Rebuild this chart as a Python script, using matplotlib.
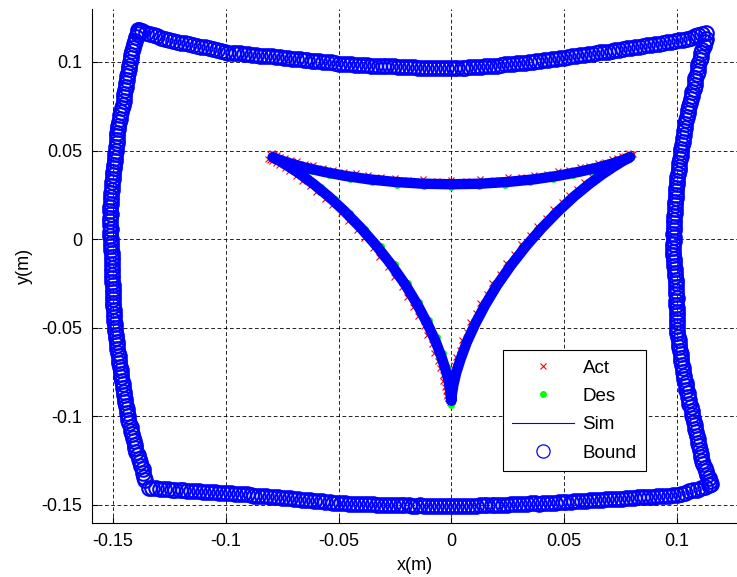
import matplotlib
matplotlib.use('Agg')
import matplotlib.pyplot as plt
from matplotlib.lines import Line2D

# workspace boundary, sampled edge by edge (top, right, bottom, left)
top_x = [-0.1385, -0.1355, -0.1320, -0.1285, -0.1250, -0.1215, -0.1180, -0.1145, -0.1110, -0.1075,
         -0.1040, -0.1005, -0.0970, -0.0935, -0.0900, -0.0865, -0.0830, -0.0795, -0.0760, -0.0725,
         -0.0690, -0.0655, -0.0620, -0.0585, -0.0550, -0.0515, -0.0480, -0.0445, -0.0410, -0.0375,
         -0.0340, -0.0305, -0.0270, -0.0235, -0.0200, -0.0165, -0.0130, -0.0095, -0.0060, -0.0025,
         0.0010, 0.0045, 0.0080, 0.0115, 0.0150, 0.0185, 0.0220, 0.0255, 0.0290, 0.0325,
         0.0360, 0.0395, 0.0430, 0.0465, 0.0500, 0.0535, 0.0570, 0.0605, 0.0640, 0.0675,
         0.0710, 0.0745, 0.0780, 0.0815, 0.0850, 0.0885, 0.0920, 0.0955, 0.0990, 0.1025,
         0.1060, 0.1095, 0.1130]
top_y = [0.1178, 0.1166, 0.1150, 0.1135, 0.1124, 0.1115, 0.1105, 0.1096, 0.1087, 0.1077,
         0.1068, 0.1057, 0.1052, 0.1048, 0.1043, 0.1038, 0.1035, 0.1031, 0.1026, 0.1021,
         0.1017, 0.1013, 0.1008, 0.1003, 0.0999, 0.0995, 0.0990, 0.0988, 0.0985, 0.0982,
         0.0979, 0.0978, 0.0976, 0.0974, 0.0972, 0.0970, 0.0968, 0.0967, 0.0966, 0.0965,
         0.0966, 0.0968, 0.0970, 0.0972, 0.0975, 0.0979, 0.0983, 0.0987, 0.0992, 0.0997,
         0.1002, 0.1007, 0.1012, 0.1018, 0.1025, 0.1031, 0.1037, 0.1043, 0.1050, 0.1057,
         0.1063, 0.1070, 0.1077, 0.1084, 0.1090, 0.1097, 0.1104, 0.1111, 0.1118, 0.1126,
         0.1138, 0.1150, 0.1165]
top2_x = [-0.1370, -0.1338, -0.1303, -0.1268, -0.1233, -0.1198, -0.1163, -0.1128, -0.1093, -0.1058,
          -0.1023, -0.0988, -0.0953, -0.0918, -0.0883, -0.0848, -0.0813, -0.0778, -0.0743, -0.0708,
          -0.0673, -0.0638, -0.0603, -0.0568, -0.0533, -0.0498, -0.0463, -0.0428, -0.0393, -0.0358,
          -0.0323, -0.0288, -0.0253, -0.0218, -0.0183, -0.0148, -0.0113, -0.0078, -0.0043, -0.0008,
          0.0027, 0.0062, 0.0097, 0.0132, 0.0167, 0.0202, 0.0237, 0.0272, 0.0307, 0.0342,
          0.0377, 0.0412, 0.0447, 0.0482, 0.0517, 0.0552, 0.0587, 0.0622, 0.0657, 0.0692,
          0.0727, 0.0762, 0.0797, 0.0832, 0.0867, 0.0902, 0.0937, 0.0972, 0.1007, 0.1043,
          0.1078, 0.1112]
top2_y = [0.1174, 0.1156, 0.1144, 0.1127, 0.1121, 0.1108, 0.1102, 0.1090, 0.1083, 0.1071,
          0.1064, 0.1053, 0.1051, 0.1044, 0.1042, 0.1035, 0.1034, 0.1027, 0.1025, 0.1018,
          0.1016, 0.1009, 0.1007, 0.0999, 0.0998, 0.0991, 0.0990, 0.0985, 0.0984, 0.0979,
          0.0980, 0.0976, 0.0976, 0.0972, 0.0972, 0.0968, 0.0968, 0.0965, 0.0966, 0.0964,
          0.0968, 0.0968, 0.0972, 0.0973, 0.0978, 0.0980, 0.0986, 0.0989, 0.0995, 0.0999,
          0.1005, 0.1009, 0.1016, 0.1021, 0.1029, 0.1033, 0.1041, 0.1046, 0.1054, 0.1059,
          0.1067, 0.1073, 0.1081, 0.1086, 0.1094, 0.1100, 0.1108, 0.1114, 0.1123, 0.1131,
          0.1145, 0.1156]

right_x = [0.1128, 0.1120, 0.1106, 0.1101, 0.1093, 0.1087, 0.1080, 0.1074, 0.1066, 0.1059,
           0.1051, 0.1043, 0.1036, 0.1032, 0.1028, 0.1023, 0.1018, 0.1014, 0.1009, 0.1005,
           0.1000, 0.0996, 0.0994, 0.0992, 0.0990, 0.0988, 0.0987, 0.0986, 0.0985, 0.0984,
           0.0982, 0.0985, 0.0988, 0.0992, 0.0995, 0.0996, 0.0997, 0.0997, 0.0998, 0.0999,
           0.1000, 0.1001, 0.1005, 0.1010, 0.1014, 0.1018, 0.1022, 0.1027, 0.1033, 0.1040,
           0.1047, 0.1053, 0.1060, 0.1067, 0.1074, 0.1081, 0.1087, 0.1094, 0.1101, 0.1108,
           0.1116, 0.1127, 0.1140, 0.1150]
right_y = [0.1130, 0.1090, 0.1050, 0.1010, 0.0970, 0.0930, 0.0890, 0.0850, 0.0810, 0.0770,
           0.0730, 0.0690, 0.0650, 0.0610, 0.0570, 0.0530, 0.0490, 0.0450, 0.0410, 0.0370,
           0.0330, 0.0290, 0.0250, 0.0210, 0.0170, 0.0130, 0.0090, 0.0050, 0.0010, -0.0030,
           -0.0070, -0.0110, -0.0150, -0.0190, -0.0230, -0.0270, -0.0310, -0.0350, -0.0390, -0.0430,
           -0.0470, -0.0510, -0.0550, -0.0590, -0.0630, -0.0670, -0.0710, -0.0750, -0.0790, -0.0830,
           -0.0870, -0.0910, -0.0950, -0.0990, -0.1030, -0.1070, -0.1110, -0.1150, -0.1190, -0.1230,
           -0.1270, -0.1310, -0.1350, -0.1380]
right2_x = [0.1126, 0.1111, 0.1105, 0.1095, 0.1091, 0.1082, 0.1079, 0.1068, 0.1064, 0.1053,
            0.1049, 0.1038, 0.1035, 0.1029, 0.1027, 0.1019, 0.1017, 0.1010, 0.1008, 0.1001,
            0.0999, 0.0994, 0.0994, 0.0990, 0.0990, 0.0986, 0.0988, 0.0984, 0.0986, 0.0982,
            0.0984, 0.0986, 0.0991, 0.0993, 0.0997, 0.0995, 0.0998, 0.0996, 0.1000, 0.0998,
            0.1002, 0.1002, 0.1008, 0.1011, 0.1017, 0.1019, 0.1026, 0.1029, 0.1038, 0.1042,
            0.1051, 0.1055, 0.1065, 0.1069, 0.1079, 0.1083, 0.1092, 0.1096, 0.1106, 0.1111,
            0.1123, 0.1132, 0.1146]
right2_y = [0.1110, 0.1070, 0.1030, 0.0990, 0.0950, 0.0910, 0.0870, 0.0830, 0.0790, 0.0750,
            0.0710, 0.0670, 0.0630, 0.0590, 0.0550, 0.0510, 0.0470, 0.0430, 0.0390, 0.0350,
            0.0310, 0.0270, 0.0230, 0.0190, 0.0150, 0.0110, 0.0070, 0.0030, -0.0010, -0.0050,
            -0.0090, -0.0130, -0.0170, -0.0210, -0.0250, -0.0290, -0.0330, -0.0370, -0.0410, -0.0450,
            -0.0490, -0.0530, -0.0570, -0.0610, -0.0650, -0.0690, -0.0730, -0.0770, -0.0810, -0.0850,
            -0.0890, -0.0930, -0.0970, -0.1010, -0.1050, -0.1090, -0.1130, -0.1170, -0.1210, -0.1250,
            -0.1290, -0.1330, -0.1365]

bottom_x = [0.1140, 0.1105, 0.1070, 0.1035, 0.1000, 0.0965, 0.0930, 0.0895, 0.0860, 0.0825,
            0.0790, 0.0755, 0.0720, 0.0685, 0.0650, 0.0615, 0.0580, 0.0545, 0.0510, 0.0475,
            0.0440, 0.0405, 0.0370, 0.0335, 0.0300, 0.0265, 0.0230, 0.0195, 0.0160, 0.0125,
            0.0090, 0.0055, 0.0020, -0.0015, -0.0050, -0.0085, -0.0120, -0.0155, -0.0190, -0.0225,
            -0.0260, -0.0295, -0.0330, -0.0365, -0.0400, -0.0435, -0.0470, -0.0505, -0.0540, -0.0575,
            -0.0610, -0.0645, -0.0680, -0.0715, -0.0750, -0.0785, -0.0820, -0.0855, -0.0890, -0.0925,
            -0.0960, -0.0995, -0.1030, -0.1065, -0.1100, -0.1135, -0.1170, -0.1205, -0.1240, -0.1275,
            -0.1310, -0.1340]
bottom_y = [-0.1390, -0.1405, -0.1418, -0.1432, -0.1443, -0.1447, -0.1450, -0.1453, -0.1456, -0.1458,
            -0.1461, -0.1464, -0.1466, -0.1469, -0.1472, -0.1474, -0.1477, -0.1480, -0.1483, -0.1485,
            -0.1488, -0.1490, -0.1491, -0.1494, -0.1496, -0.1497, -0.1499, -0.1501, -0.1502, -0.1503,
            -0.1505, -0.1506, -0.1507, -0.1507, -0.1506, -0.1506, -0.1505, -0.1504, -0.1503, -0.1502,
            -0.1501, -0.1500, -0.1498, -0.1496, -0.1494, -0.1493, -0.1491, -0.1489, -0.1484, -0.1480,
            -0.1476, -0.1472, -0.1468, -0.1463, -0.1459, -0.1455, -0.1451, -0.1448, -0.1444, -0.1440,
            -0.1436, -0.1433, -0.1431, -0.1428, -0.1425, -0.1422, -0.1419, -0.1416, -0.1413, -0.1410,
            -0.1407, -0.1403]
bottom2_x = [0.1123, 0.1088, 0.1053, 0.1018, 0.0983, 0.0948, 0.0913, 0.0878, 0.0843, 0.0808,
             0.0773, 0.0738, 0.0703, 0.0668, 0.0633, 0.0598, 0.0563, 0.0528, 0.0493, 0.0458,
             0.0423, 0.0388, 0.0353, 0.0318, 0.0283, 0.0248, 0.0213, 0.0178, 0.0143, 0.0108,
             0.0073, 0.0038, 0.0003, -0.0033, -0.0068, -0.0103, -0.0138, -0.0173, -0.0208, -0.0243,
             -0.0278, -0.0313, -0.0348, -0.0383, -0.0418, -0.0453, -0.0488, -0.0523, -0.0558, -0.0593,
             -0.0628, -0.0663, -0.0698, -0.0733, -0.0768, -0.0803, -0.0838, -0.0873, -0.0908, -0.0943,
             -0.0978, -0.1013, -0.1048, -0.1083, -0.1118, -0.1153, -0.1188, -0.1223, -0.1258, -0.1293,
             -0.1325]
bottom2_y = [-0.1396, -0.1413, -0.1424, -0.1439, -0.1444, -0.1450, -0.1450, -0.1456, -0.1456, -0.1461,
             -0.1461, -0.1467, -0.1466, -0.1472, -0.1472, -0.1477, -0.1477, -0.1483, -0.1483, -0.1488,
             -0.1488, -0.1492, -0.1491, -0.1496, -0.1495, -0.1499, -0.1499, -0.1503, -0.1501, -0.1505,
             -0.1504, -0.1508, -0.1506, -0.1508, -0.1505, -0.1507, -0.1503, -0.1505, -0.1501, -0.1503,
             -0.1499, -0.1500, -0.1496, -0.1496, -0.1492, -0.1493, -0.1489, -0.1487, -0.1481, -0.1479,
             -0.1473, -0.1471, -0.1464, -0.1462, -0.1456, -0.1454, -0.1448, -0.1447, -0.1441, -0.1439,
             -0.1433, -0.1433, -0.1428, -0.1428, -0.1422, -0.1421, -0.1416, -0.1415, -0.1410, -0.1409,
             -0.1404]

left_x = [-0.1357, -0.1366, -0.1374, -0.1383, -0.1396, -0.1403, -0.1411, -0.1418, -0.1427, -0.1435,
          -0.1440, -0.1445, -0.1449, -0.1454, -0.1459, -0.1464, -0.1469, -0.1473, -0.1477, -0.1481,
          -0.1485, -0.1489, -0.1492, -0.1494, -0.1496, -0.1498, -0.1500, -0.1502, -0.1504, -0.1504,
          -0.1505, -0.1505, -0.1505, -0.1507, -0.1509, -0.1511, -0.1512, -0.1512, -0.1511, -0.1509,
          -0.1507, -0.1505, -0.1503, -0.1500, -0.1497, -0.1493, -0.1489, -0.1486, -0.1483, -0.1480,
          -0.1476, -0.1471, -0.1466, -0.1457, -0.1451, -0.1446, -0.1441, -0.1436, -0.1431, -0.1425,
          -0.1418, -0.1411, -0.1402, -0.1391, -0.1388]
left_y = [-0.1360, -0.1320, -0.1280, -0.1240, -0.1200, -0.1160, -0.1120, -0.1080, -0.1040, -0.1000,
          -0.0960, -0.0920, -0.0880, -0.0840, -0.0800, -0.0760, -0.0720, -0.0680, -0.0640, -0.0600,
          -0.0560, -0.0520, -0.0480, -0.0440, -0.0400, -0.0360, -0.0320, -0.0280, -0.0240, -0.0200,
          -0.0160, -0.0120, -0.0080, -0.0040, 0.0000, 0.0040, 0.0080, 0.0120, 0.0160, 0.0200,
          0.0240, 0.0280, 0.0320, 0.0360, 0.0400, 0.0440, 0.0480, 0.0520, 0.0560, 0.0600,
          0.0640, 0.0680, 0.0720, 0.0760, 0.0800, 0.0840, 0.0880, 0.0920, 0.0960, 0.1000,
          0.1040, 0.1080, 0.1120, 0.1160, 0.1180]
left2_x = [-0.1363, -0.1369, -0.1380, -0.1388, -0.1401, -0.1406, -0.1416, -0.1421, -0.1432, -0.1436,
           -0.1444, -0.1446, -0.1453, -0.1455, -0.1463, -0.1465, -0.1472, -0.1474, -0.1480, -0.1482,
           -0.1488, -0.1489, -0.1494, -0.1494, -0.1498, -0.1498, -0.1502, -0.1502, -0.1505, -0.1503,
           -0.1506, -0.1504, -0.1507, -0.1507, -0.1511, -0.1510, -0.1513, -0.1510, -0.1511, -0.1507,
           -0.1507, -0.1503, -0.1502, -0.1498, -0.1496, -0.1490, -0.1488, -0.1484, -0.1482, -0.1477,
           -0.1474, -0.1468, -0.1462, -0.1453, -0.1449, -0.1443, -0.1439, -0.1433, -0.1429, -0.1421,
           -0.1415, -0.1406, -0.1398, -0.1389]
left2_y = [-0.1340, -0.1300, -0.1260, -0.1220, -0.1180, -0.1140, -0.1100, -0.1060, -0.1020, -0.0980,
           -0.0940, -0.0900, -0.0860, -0.0820, -0.0780, -0.0740, -0.0700, -0.0660, -0.0620, -0.0580,
           -0.0540, -0.0500, -0.0460, -0.0420, -0.0380, -0.0340, -0.0300, -0.0260, -0.0220, -0.0180,
           -0.0140, -0.0100, -0.0060, -0.0020, 0.0020, 0.0060, 0.0100, 0.0140, 0.0180, 0.0220,
           0.0260, 0.0300, 0.0340, 0.0380, 0.0420, 0.0460, 0.0500, 0.0540, 0.0580, 0.0620,
           0.0660, 0.0700, 0.0740, 0.0780, 0.0820, 0.0860, 0.0900, 0.0940, 0.0980, 0.1020,
           0.1060, 0.1100, 0.1140, 0.1170]

# simulated end-effector path
sim_x = [0.0000, 0.0000, 0.0003, 0.0009, 0.0021, 0.0041, 0.0068, 0.0105, 0.0150, 0.0203,
         0.0264, 0.0331, 0.0401, 0.0473, 0.0543, 0.0610, 0.0670, 0.0721, 0.0759, 0.0784,
         0.0792, 0.0784, 0.0757, 0.0711, 0.0649, 0.0569, 0.0475, 0.0368, 0.0251, 0.0127,
         0.0000, -0.0127, -0.0251, -0.0368, -0.0475, -0.0569, -0.0649, -0.0711, -0.0757, -0.0784,
         -0.0792, -0.0784, -0.0759, -0.0721, -0.0670, -0.0610, -0.0543, -0.0473, -0.0401, -0.0331,
         -0.0264, -0.0203, -0.0150, -0.0105, -0.0068, -0.0041, -0.0021, -0.0009, -0.0003, 0.0000,
         0.0000]
sim_y = [-0.0910, -0.0900, -0.0870, -0.0822, -0.0756, -0.0676, -0.0583, -0.0480, -0.0371, -0.0259,
         -0.0148, -0.0039, 0.0063, 0.0157, 0.0240, 0.0310, 0.0367, 0.0410, 0.0440, 0.0457,
         0.0463, 0.0458, 0.0445, 0.0426, 0.0404, 0.0381, 0.0358, 0.0338, 0.0323, 0.0313,
         0.0310, 0.0313, 0.0323, 0.0338, 0.0358, 0.0381, 0.0404, 0.0426, 0.0445, 0.0458,
         0.0463, 0.0457, 0.0440, 0.0410, 0.0367, 0.0310, 0.0240, 0.0157, 0.0063, -0.0039,
         -0.0148, -0.0259, -0.0371, -0.0480, -0.0583, -0.0676, -0.0756, -0.0822, -0.0870, -0.0900,
         -0.0910]

# desired path
des_x = [0.0000, 0.0000, 0.0003, 0.0009, 0.0020, 0.0039, 0.0065, 0.0100, 0.0143, 0.0193,
         0.0251, 0.0314, 0.0381, 0.0449, 0.0517, 0.0580, 0.0637, 0.0685, 0.0722, 0.0745,
         0.0800, 0.0745, 0.0719, 0.0677, 0.0617, 0.0541, 0.0451, 0.0350, 0.0239, 0.0121,
         0.0000, -0.0121, -0.0239, -0.0350, -0.0451, -0.0541, -0.0617, -0.0677, -0.0719, -0.0745,
         -0.0800, -0.0745, -0.0722, -0.0685, -0.0637, -0.0580, -0.0517, -0.0449, -0.0381, -0.0314,
         -0.0251, -0.0193, -0.0143, -0.0100, -0.0065, -0.0039, -0.0020, -0.0009, -0.0003, 0.0000]
des_y = [-0.0935, -0.0856, -0.0827, -0.0781, -0.0719, -0.0642, -0.0554, -0.0456, -0.0353, -0.0246,
         -0.0140, -0.0037, 0.0060, 0.0149, 0.0228, 0.0295, 0.0349, 0.0391, 0.0419, 0.0435,
         0.0470, 0.0436, 0.0423, 0.0406, 0.0385, 0.0362, 0.0341, 0.0322, 0.0307, 0.0298,
         0.0295, 0.0298, 0.0307, 0.0322, 0.0341, 0.0362, 0.0385, 0.0406, 0.0423, 0.0436,
         0.0470, 0.0435, 0.0419, 0.0391, 0.0349, 0.0295, 0.0228, 0.0149, 0.0060, -0.0037,
         -0.0140, -0.0246, -0.0353, -0.0456, -0.0554, -0.0642, -0.0719, -0.0781, -0.0827, -0.0856]

# measured (actual) path
act_x = [0.0002, -0.0016, -0.0020, -0.0017, -0.0019, -0.0013, -0.0012, -0.0003, 0.0000, 0.0012,
         0.0020, 0.0036, 0.0047, 0.0068, 0.0084, 0.0108, 0.0129, 0.0158, 0.0182, 0.0215,
         0.0243, 0.0279, 0.0310, 0.0347, 0.0380, 0.0419, 0.0452, 0.0490, 0.0522, 0.0559,
         0.0589, 0.0623, 0.0650, 0.0679, 0.0702, 0.0726, 0.0745, 0.0765, 0.0781, 0.0797,
         0.0805, 0.0796, 0.0782, 0.0770, 0.0755, 0.0735, 0.0710, 0.0681, 0.0648, 0.0610,
         0.0568, 0.0523, 0.0474, 0.0422, 0.0367, 0.0309, 0.0250, 0.0189, 0.0126, 0.0063,
         0.0000, -0.0065, -0.0128, -0.0191, -0.0252, -0.0311, -0.0369, -0.0424, -0.0476, -0.0525,
         -0.0570, -0.0612, -0.0650, -0.0683, -0.0712, -0.0737, -0.0758, -0.0773, -0.0786, -0.0795,
         -0.0805, -0.0812, -0.0802, -0.0796, -0.0777, -0.0764, -0.0739, -0.0719, -0.0688, -0.0663,
         -0.0628, -0.0599, -0.0561, -0.0530, -0.0491, -0.0459, -0.0419, -0.0387, -0.0349, -0.0319,
         -0.0282, -0.0255, -0.0221, -0.0198, -0.0168, -0.0148, -0.0123, -0.0108, -0.0086, -0.0076,
         -0.0059, -0.0052, -0.0039, -0.0037, -0.0027, -0.0026, -0.0019, -0.0017, -0.0012, -0.0006]
act_y = [-0.0915, -0.0897, -0.0887, -0.0880, -0.0858, -0.0840, -0.0810, -0.0783, -0.0744, -0.0710,
         -0.0665, -0.0623, -0.0571, -0.0524, -0.0468, -0.0418, -0.0359, -0.0307, -0.0247, -0.0195,
         -0.0136, -0.0085, -0.0027, 0.0021, 0.0075, 0.0119, 0.0169, 0.0208, 0.0252, 0.0284,
         0.0322, 0.0348, 0.0379, 0.0399, 0.0422, 0.0436, 0.0452, 0.0461, 0.0470, 0.0476,
         0.0480, 0.0481, 0.0484, 0.0472, 0.0470, 0.0456, 0.0450, 0.0436, 0.0429, 0.0413,
         0.0405, 0.0389, 0.0383, 0.0368, 0.0362, 0.0350, 0.0348, 0.0336, 0.0338, 0.0330,
         0.0335, 0.0330, 0.0338, 0.0336, 0.0346, 0.0351, 0.0361, 0.0371, 0.0380, 0.0393,
         0.0402, 0.0418, 0.0425, 0.0440, 0.0447, 0.0460, 0.0466, 0.0476, 0.0479, 0.0484,
         0.0478, 0.0452, 0.0446, 0.0441, 0.0429, 0.0418, 0.0399, 0.0382, 0.0356, 0.0331,
         0.0299, 0.0267, 0.0229, 0.0191, 0.0146, 0.0102, 0.0052, 0.0004, -0.0050, -0.0102,
         -0.0159, -0.0212, -0.0270, -0.0324, -0.0382, -0.0435, -0.0491, -0.0541, -0.0594, -0.0640,
         -0.0687, -0.0727, -0.0767, -0.0800, -0.0833, -0.0857, -0.0880, -0.0895, -0.0909, -0.0918]

xticks = [-0.15, -0.1, -0.05, 0, 0.05, 0.1]
xtick_labels = ['-0.15', '-0.1', '-0.05', '0', '0.05', '0.1']
yticks = [-0.15, -0.1, -0.05, 0, 0.05, 0.1]
ytick_labels = ['-0.15', '-0.1', '-0.05', '0', '0.05', '0.1']
labels = ['Act', 'Des', 'Sim', 'Bound']

plt.rcParams['font.family'] = ['Liberation Sans', 'DejaVu Sans']
plt.rcParams['font.size'] = 13
plt.rcParams['axes.unicode_minus'] = False

fig = plt.figure(figsize=(7.37, 5.77), dpi=100)
ax = fig.add_axes([92 / 737, 54 / 577, 645 / 737, 514 / 577])

bound_x = top_x + top2_x + right_x + right2_x + bottom_x + bottom2_x + left_x + left2_x
bound_y = top_y + top2_y + right_y + right2_y + bottom_y + bottom2_y + left_y + left2_y

ax.plot(des_x, des_y, 'o', color=(0, 1, 0), ms=5, mec='none', zorder=2)
ax.plot(act_x, act_y, 'x', color='r', ms=5, mew=0.8, zorder=3)
ax.plot(sim_x, sim_y, '-', color='b', lw=7.5, solid_joinstyle='round',
        solid_capstyle='round', zorder=4)
ax.plot(bound_x, bound_y, 'o', mfc='none', mec='b', ms=10.5, mew=1.5, zorder=5)

ax.set_xlim(-0.1593, 0.1266)
ax.set_ylim(-0.1602, 0.1299)
ax.set_xticks(xticks)
ax.set_xticklabels(xtick_labels)
ax.set_yticks(yticks)
ax.set_yticklabels(ytick_labels)
ax.tick_params(direction='in', length=4, width=0.8, pad=7, colors='k')
ax.grid(True, color='k', lw=0.6, ls=(0, (4.5, 3)))
ax.set_axisbelow(True)

for s in ['top', 'right']:
    ax.spines[s].set_visible(False)
for s in ['left', 'bottom']:
    ax.spines[s].set_color('k')
    ax.spines[s].set_linewidth(0.8)

ax.set_xlabel('x(m)', labelpad=5)
ax.set_ylabel('y(m)', labelpad=6)

handles = [Line2D([], [], ls='none', marker='x', color='r', ms=5, mew=0.8),
           Line2D([], [], ls='none', marker='o', color=(0, 1, 0), ms=5, mec='none'),
           Line2D([], [], color='b', lw=0.8),
           Line2D([], [], ls='none', marker='o', mfc='none', mec='b', ms=9.5, mew=0.9)]
leg = ax.legend(handles, labels, loc='lower left', bbox_to_anchor=(0.637, 0.101),
                borderaxespad=0, fancybox=False, edgecolor='k', framealpha=1,
                handlelength=3.3, handletextpad=0.45, labelspacing=0.6, borderpad=0.5,
                fontsize=13.5)
leg.get_frame().set_linewidth(0.8)

fig.savefig('out.png', dpi=100)
